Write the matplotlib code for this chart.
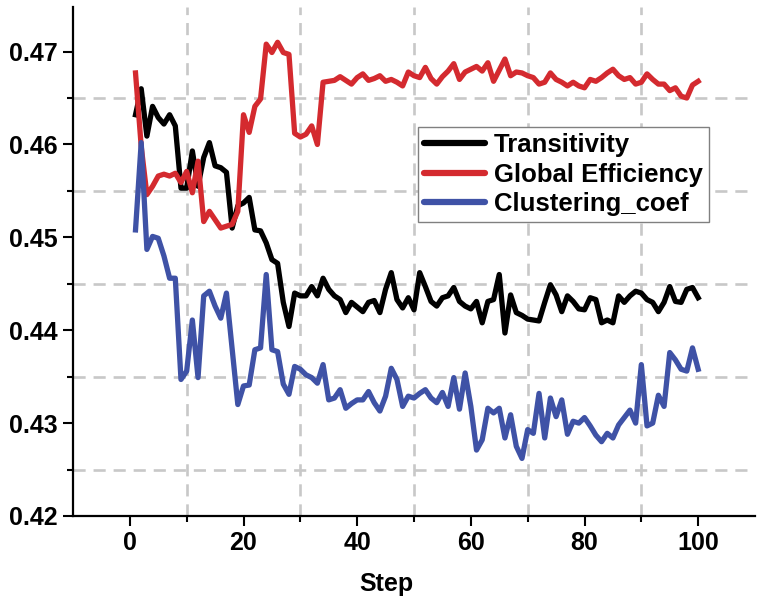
import matplotlib
matplotlib.use('Agg')
import matplotlib.pyplot as plt
import numpy as np

plt.rcParams['font.family'] = ['Liberation Sans', 'DejaVu Sans']
plt.rcParams['font.weight'] = 'bold'

steps = np.arange(1, 101)

transitivity = [
    0.4632, 0.4660, 0.4609, 0.4641, 0.4629, 0.4622, 0.4632, 0.4620, 0.4553, 0.4553,
    0.4593, 0.4555, 0.4586, 0.4602, 0.4577, 0.4575, 0.4570, 0.4510, 0.4534, 0.4537,
    0.4543, 0.4508, 0.4507, 0.4494, 0.4476, 0.4472, 0.4430, 0.4404, 0.4440, 0.4437,
    0.4437, 0.4447, 0.4437, 0.4456, 0.4444, 0.4437, 0.4433, 0.4419, 0.4430, 0.4425,
    0.4420, 0.4430, 0.4432, 0.4419, 0.4444, 0.4462, 0.4433, 0.4424, 0.4435, 0.4422,
    0.4462, 0.4447, 0.4431, 0.4426, 0.4435, 0.4437, 0.4446, 0.4431, 0.4426, 0.4423,
    0.4431, 0.4408, 0.4431, 0.4433, 0.4460, 0.4397, 0.4438, 0.4419, 0.4416, 0.4412,
    0.4411, 0.4410, 0.4430, 0.4449, 0.4438, 0.4420, 0.4437, 0.4431, 0.4423, 0.4422,
    0.4435, 0.4433, 0.4408, 0.4411, 0.4408, 0.4437, 0.4430, 0.4437, 0.4442, 0.4440,
    0.4433, 0.4430, 0.4420, 0.4430, 0.4447, 0.4431, 0.4430, 0.4444, 0.4446, 0.4435,
]

global_eff = [
    0.4677, 0.4598, 0.4546, 0.4555, 0.4566, 0.4568, 0.4566, 0.4569, 0.4559, 0.4571,
    0.4548, 0.4582, 0.4517, 0.4528, 0.4519, 0.4510, 0.4512, 0.4514, 0.4528, 0.4632,
    0.4613, 0.4641, 0.4649, 0.4708, 0.4699, 0.4710, 0.4699, 0.4697, 0.4612, 0.4608,
    0.4611, 0.4620, 0.4600, 0.4667, 0.4668, 0.4669, 0.4673, 0.4669, 0.4665, 0.4672,
    0.4676, 0.4669, 0.4671, 0.4674, 0.4668, 0.4670, 0.4667, 0.4663, 0.4678, 0.4674,
    0.4672, 0.4683, 0.4671, 0.4665, 0.4673, 0.4679, 0.4687, 0.4670, 0.4678, 0.4681,
    0.4684, 0.4679, 0.4688, 0.4668, 0.4680, 0.4692, 0.4674, 0.4678, 0.4677, 0.4674,
    0.4672, 0.4665, 0.4667, 0.4677, 0.4670, 0.4667, 0.4663, 0.4667, 0.4663, 0.4661,
    0.4670, 0.4668, 0.4672, 0.4677, 0.4681, 0.4674, 0.4670, 0.4672, 0.4665, 0.4667,
    0.4676, 0.4670, 0.4665, 0.4665, 0.4658, 0.4661, 0.4652, 0.4650, 0.4664, 0.4668,
]

clustering = [
    0.4508, 0.4602, 0.4487, 0.4501, 0.4499, 0.4480, 0.4456, 0.4456, 0.4347, 0.4356,
    0.4411, 0.4349, 0.4437, 0.4442, 0.4426, 0.4413, 0.4440, 0.4380, 0.4320, 0.4340,
    0.4341, 0.4379, 0.4381, 0.4460, 0.4379, 0.4377, 0.4342, 0.4331, 0.4361, 0.4358,
    0.4352, 0.4349, 0.4343, 0.4363, 0.4325, 0.4327, 0.4336, 0.4316, 0.4321, 0.4325,
    0.4325, 0.4334, 0.4322, 0.4313, 0.4329, 0.4359, 0.4347, 0.4318, 0.4329, 0.4327,
    0.4332, 0.4336, 0.4327, 0.4322, 0.4333, 0.4318, 0.4349, 0.4315, 0.4354, 0.4318,
    0.4271, 0.4282, 0.4316, 0.4311, 0.4316, 0.4284, 0.4309, 0.4275, 0.4262, 0.4293,
    0.4289, 0.4332, 0.4284, 0.4327, 0.4307, 0.4325, 0.4288, 0.4302, 0.4300, 0.4306,
    0.4297, 0.4287, 0.4280, 0.4289, 0.4284, 0.4298, 0.4306, 0.4314, 0.4300, 0.4363,
    0.4297, 0.4300, 0.4330, 0.4318, 0.4376, 0.4368, 0.4358, 0.4356, 0.4381, 0.4358,
]

labels = ['Transitivity', 'Global Efficiency', 'Clustering_coef']
colors = ['#000000', '#d42a2f', '#3f52a6']

xticks = [0, 20, 40, 60, 80, 100]
xgrid = [10, 30, 50, 70, 90]
yticks = [0.42, 0.43, 0.44, 0.45, 0.46, 0.47]
ygrid = [0.425, 0.435, 0.445, 0.455, 0.465]

fig = plt.figure(figsize=(7.64, 6.09), dpi=100)
ax = fig.add_axes([73 / 764, 93 / 609, 682 / 764, 509 / 609])

for series, lab, col in zip([transitivity, global_eff, clustering], labels, colors):
    ax.plot(steps, series, color=col, lw=3.8, label=lab, zorder=3,
            solid_joinstyle='round')

ax.set_xlim(-10, 110)
ax.set_ylim(0.42, 0.4748)
ax.set_xticks(xticks)
ax.set_xticks(xgrid, minor=True)
ax.set_yticks(yticks)
ax.set_yticks(ygrid, minor=True)
ax.set_yticklabels([f'{v:.2f}' for v in yticks])

# dashed grid only on the in-between positions
ax.grid(which='minor', color='#c8c8c8', linestyle=(0, (4.6, 3.0)), linewidth=1.9)
ax.grid(which='major', visible=False)

for side in ['top', 'right']:
    ax.spines[side].set_visible(False)
for side in ['left', 'bottom']:
    ax.spines[side].set_linewidth(1.6)

ax.tick_params(which='major', direction='out', length=7, width=1.5, labelsize=18, pad=4)
ax.tick_params(which='minor', direction='out', length=4, width=1.5)

ax.set_xlabel('Step', fontsize=18, fontweight='bold')
ax.xaxis.set_label_coords(0.46, -0.11)

leg = ax.legend(loc='upper left', bbox_to_anchor=(418 / 764, 1 - 127 / 609),
                bbox_transform=fig.transFigure, fontsize=18.5, frameon=True,
                fancybox=False, framealpha=1, edgecolor='#808080',
                handlelength=2.35, handletextpad=0.35, labelspacing=0.2,
                borderpad=0.25, borderaxespad=0)
leg.get_frame().set_linewidth(1.0)
for line in leg.get_lines():
    line.set_linewidth(4.5)
    line.set_solid_capstyle('round')

fig.savefig('out.png', dpi=100)
